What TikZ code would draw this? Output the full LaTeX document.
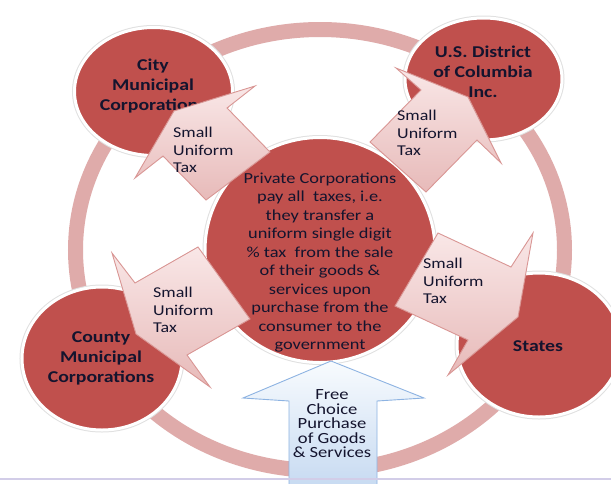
\documentclass[tikz,border=0pt]{standalone}
\usepackage{fontspec}
\setmainfont{Carlito}[FakeStretch=1.2]
\usetikzlibrary{shapes.geometric}
\definecolor{cred}{HTML}{C0504D}
\definecolor{cring}{HTML}{DFABAA}
\definecolor{carrowline}{HTML}{D99694}
\definecolor{carrowtop}{HTML}{F9E7E7}
\definecolor{carrowbot}{HTML}{E7BAB9}
\definecolor{cblueline}{HTML}{8DB3E2}
\definecolor{cbluetop}{HTML}{F8FBFE}
\definecolor{cbluebot}{HTML}{C5D9F1}
\definecolor{ctext}{HTML}{14142E}
\definecolor{cbase}{HTML}{D2CDE8}
\begin{document}
\begin{tikzpicture}[x=1pt,y=-1pt,
  disc/.style={fill=cred, draw=white, line width=3pt,
    preaction={draw=black!12, line width=5pt}},
  bignm/.style={font=\fontsize{16.5}{20}\selectfont\bfseries, text=ctext, align=center},
  coretext/.style={font=\fontsize{15.3}{18.5}\selectfont, text=ctext, align=center},
  taxtext/.style={font=\fontsize{15}{17.5}\selectfont, text=ctext, align=left, anchor=west, inner sep=0pt},
  taxarrow/.style={draw=carrowline, line width=0.9pt, top color=carrowtop, bottom color=carrowbot, line join=miter},
  freearrow/.style={draw=cblueline, line width=0.9pt, top color=cbluetop, bottom color=cbluebot},
  freetext/.style={font=\fontsize{15.5}{14.5}\selectfont, text=ctext, align=center}]
\useasboundingbox (0,0) rectangle (611,483);
\fill[white] (0,0) rectangle (611,483);
% ring
\coordinate (ringc) at (320,250);
\draw[cring, line width=15pt] (ringc) ellipse [x radius=244.5, y radius=220.5];
% outer circles
\coordinate (city) at (153.5,91.5);
\coordinate (usdc) at (483.5,79);
\coordinate (county) at (102,358.5);
\coordinate (states) at (539,345);
\path[disc] (city) ellipse [x radius=79, y radius=64];
\path[disc] (usdc) ellipse [x radius=78.5, y radius=61];
\path[disc] (county) ellipse [x radius=80, y radius=71.5];
\path[disc] (states) ellipse [x radius=82, y radius=72];
\node[bignm] (cityt) at (153,86) {City\\Municipal\\Corporations};
\node[bignm] (usdct) at (483,72) {U.S. District\\of Columbia\\Inc.};
\node[bignm] (countyt) at (101,358) {County\\Municipal\\Corporations};
\node[bignm] (statest) at (538,346) {States};
% centre circle
\coordinate (core) at (320,250);
\path[disc] (core) ellipse [x radius=115, y radius=112.5];
\node[coretext] (coret) at (320,262.5) {Private Corporations\\pay all\ \ taxes, i.e.\\they transfer a\\uniform single digit\\\% tax\ \ from the sale\\of their goods \&\\services upon\\purchase from the\\consumer to the\\government};
% tax arrows
\path[taxarrow] (174,111) -- (255,86) -- (227,108) -- (270,152) -- (206,200) -- (163,156) -- (135,178) -- cycle;
\path[taxarrow] (468,97) -- (501,163) -- (477,140) -- (426,192) -- (370,142) -- (421,90) -- (396,68) -- cycle;
\path[taxarrow] (518,317) -- (448,375) -- (468,340) -- (395,306) -- (438,233) -- (511,267) -- (533,233) -- cycle;
\path[taxarrow] (136,334) -- (112,253) -- (135,283) -- (198,247) -- (250,319) -- (187,355) -- (210,387) -- cycle;
\node[taxtext] (t1) at (173,150) {Small\\Uniform\\Tax};
\node[taxtext] (t2) at (397,133) {Small\\Uniform\\Tax};
\node[taxtext] (t3) at (423,281) {Small\\Uniform\\Tax};
\node[taxtext] (t4) at (153,310) {Small\\Uniform\\Tax};
% free choice arrow
\path[freearrow] (331,361) -- (424,398) -- (377,401) -- (377,492) -- (289,492) -- (289,401) -- (243,398) -- cycle;
\node[freetext] (freet) at (332,424) {Free\\Choice\\Purchase\\of Goods\\\& Services};
% base line
\draw[cbase, line width=1.5pt] (0,479) -- (611,479);
\end{tikzpicture}
\end{document}
